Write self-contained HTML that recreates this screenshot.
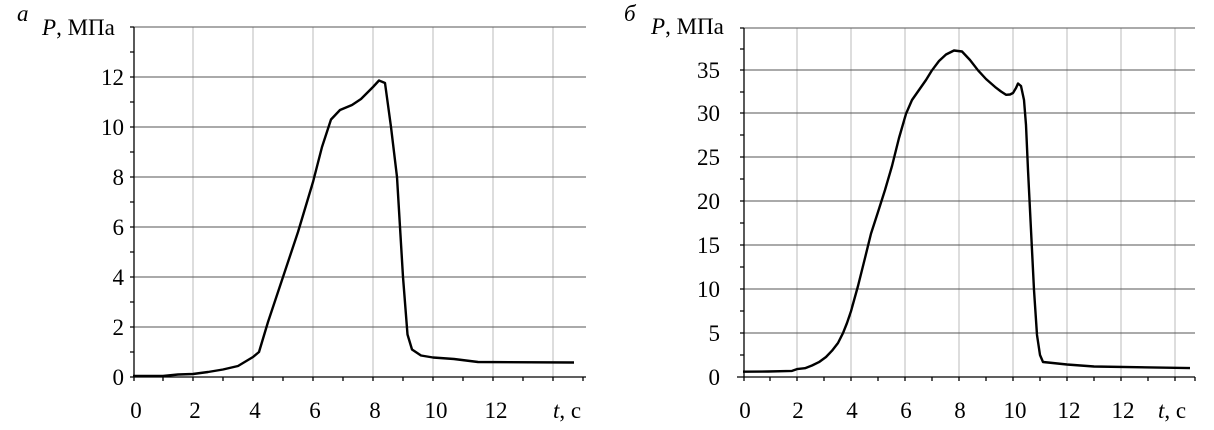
<!DOCTYPE html>
<html><head><meta charset="utf-8"><style>
html,body{margin:0;padding:0;background:#fff}
svg{display:block}
</style></head><body>
<svg width="1214" height="430" viewBox="0 0 1214 430" font-family="Liberation Serif, Times New Roman, serif" font-size="23">
<!-- LEFT CHART -->
<g stroke="#bbb" stroke-width="1">
<line x1="193" y1="27" x2="193" y2="377"/><line x1="253" y1="27" x2="253" y2="377"/><line x1="313" y1="27" x2="313" y2="377"/><line x1="373" y1="27" x2="373" y2="377"/><line x1="433" y1="27" x2="433" y2="377"/><line x1="493" y1="27" x2="493" y2="377"/><line x1="553" y1="27" x2="553" y2="377"/>
</g>
<g stroke="#555" stroke-width="1">
<line x1="133" y1="27" x2="586" y2="27"/><line x1="133" y1="77" x2="586" y2="77"/><line x1="133" y1="127" x2="586" y2="127"/><line x1="133" y1="177" x2="586" y2="177"/><line x1="133" y1="227" x2="586" y2="227"/><line x1="133" y1="277" x2="586" y2="277"/><line x1="133" y1="327" x2="586" y2="327"/>
</g>
<g stroke="#000" stroke-width="1.3">
<line x1="134" y1="27" x2="134" y2="381"/><line x1="130" y1="377" x2="586" y2="377"/>
<path d="M130 52h4M130 102h4M130 152h4M130 202h4M130 252h4M130 302h4M130 352h4M130 27h4M130 77h4M130 127h4M130 177h4M130 227h4M130 277h4M130 327h4"/>
<path d="M163 377v4M193 377v4M223 377v4M253 377v4M283 377v4M313 377v4M343 377v4M373 377v4M403 377v4M433 377v4M463 377v4M493 377v4M523 377v4M553 377v4M583 377v4"/>
</g>
<g text-anchor="end">
<text x="124" y="385">0</text><text x="124" y="335">2</text><text x="124" y="285">4</text><text x="124" y="235">6</text><text x="124" y="185">8</text><text x="124" y="135">10</text><text x="124" y="85">12</text>
</g>
<g text-anchor="middle">
<text x="136" y="418">0</text><text x="195" y="418">2</text><text x="255" y="418">4</text><text x="315" y="418">6</text><text x="375" y="418">8</text><text x="436" y="418">10</text><text x="496" y="418">12</text>
</g>
<text x="553" y="418"><tspan font-style="italic">t</tspan>, с</text>
<text x="42" y="35"><tspan font-style="italic">P</tspan>, МПа</text>
<text x="17" y="21" font-style="italic">а</text>
<polyline fill="none" stroke="#000" stroke-width="2.4" stroke-linejoin="round" points="133,376 163,376 178,374.5 193,374 208,372 223,369.5 238,366 253,357 259,352 268,322 283,277 298,232 313,182 322,147 331,119.5 340,110 352,105 361,99 373,87 379,80.5 385,83 391,127 397,177 403,277 407.5,334.5 412,349.5 421,355.5 433,357.5 454,359 478,362 574,362.5"/>
<!-- RIGHT CHART -->
<g stroke="#bbb" stroke-width="1">
<line x1="797" y1="28" x2="797" y2="377"/><line x1="851" y1="28" x2="851" y2="377"/><line x1="905" y1="28" x2="905" y2="377"/><line x1="959" y1="28" x2="959" y2="377"/><line x1="1013" y1="28" x2="1013" y2="377"/><line x1="1067" y1="28" x2="1067" y2="377"/><line x1="1121" y1="28" x2="1121" y2="377"/><line x1="1175" y1="28" x2="1175" y2="377"/>
</g>
<g stroke="#555" stroke-width="1">
<line x1="743" y1="28" x2="1195" y2="28"/><line x1="743" y1="70" x2="1195" y2="70"/><line x1="743" y1="113" x2="1195" y2="113"/><line x1="743" y1="157" x2="1195" y2="157"/><line x1="743" y1="201" x2="1195" y2="201"/><line x1="743" y1="245" x2="1195" y2="245"/><line x1="743" y1="289" x2="1195" y2="289"/><line x1="743" y1="333" x2="1195" y2="333"/>
</g>
<g stroke="#000" stroke-width="1.3">
<line x1="744" y1="28" x2="744" y2="381"/><line x1="737" y1="377" x2="1195" y2="377"/>
<path d="M740 355h4M740 333h4M740 311h4M740 289h4M740 267h4M740 245h4M740 223h4M740 201h4M740 179h4M740 157h4M740 135h4M740 113h4M740 92h4M740 70h4M740 49h4M740 28h4"/>
<path d="M770 377v4M797 377v4M824 377v4M851 377v4M878 377v4M905 377v4M932 377v4M959 377v4M986 377v4M1013 377v4M1040 377v4M1067 377v4M1094 377v4M1121 377v4M1148 377v4M1175 377v4M1195 377v4"/>
</g>
<g text-anchor="end">
<text x="720" y="385">0</text><text x="720" y="341">5</text><text x="720" y="297">10</text><text x="720" y="253">15</text><text x="720" y="209">20</text><text x="720" y="165">25</text><text x="720" y="121">30</text><text x="720" y="78">35</text>
</g>
<g text-anchor="middle">
<text x="745" y="418">0</text><text x="798" y="418">2</text><text x="852" y="418">4</text><text x="906" y="418">6</text><text x="960" y="418">8</text><text x="1015" y="418">10</text><text x="1069" y="418">12</text><text x="1123" y="418">12</text>
</g>
<text x="1158" y="418"><tspan font-style="italic">t</tspan>, с</text>
<text x="651" y="34"><tspan font-style="italic">P</tspan>, МПа</text>
<text x="624" y="21" font-style="italic">б</text>
<polyline fill="none" stroke="#000" stroke-width="2.4" stroke-linejoin="round" points="743,371.7 768,371.5 792,370.9 797,369.1 805,368.2 812,365.5 819,362.1 826,357 832,350.7 838,343 843,333.1 847,323 851,311.2 858,286 865,258 871,233.6 878,212 885,190 892,166 899,138 906,113.8 912,100 919,90 926,80 932,70.3 939,61 946,54.5 954,50.5 962,51.5 970,60 978,70.3 986,79 995,86.9 1001,91.5 1006,94.8 1010,94.5 1013,93 1016,88 1018,83.5 1021,86 1024,100 1026,125 1028,170 1031,230 1034,290 1037,335 1040,355 1043,362 1048,362.5 1067,364.5 1094,366.5 1190,368.1"/>
</svg>
</body></html>
